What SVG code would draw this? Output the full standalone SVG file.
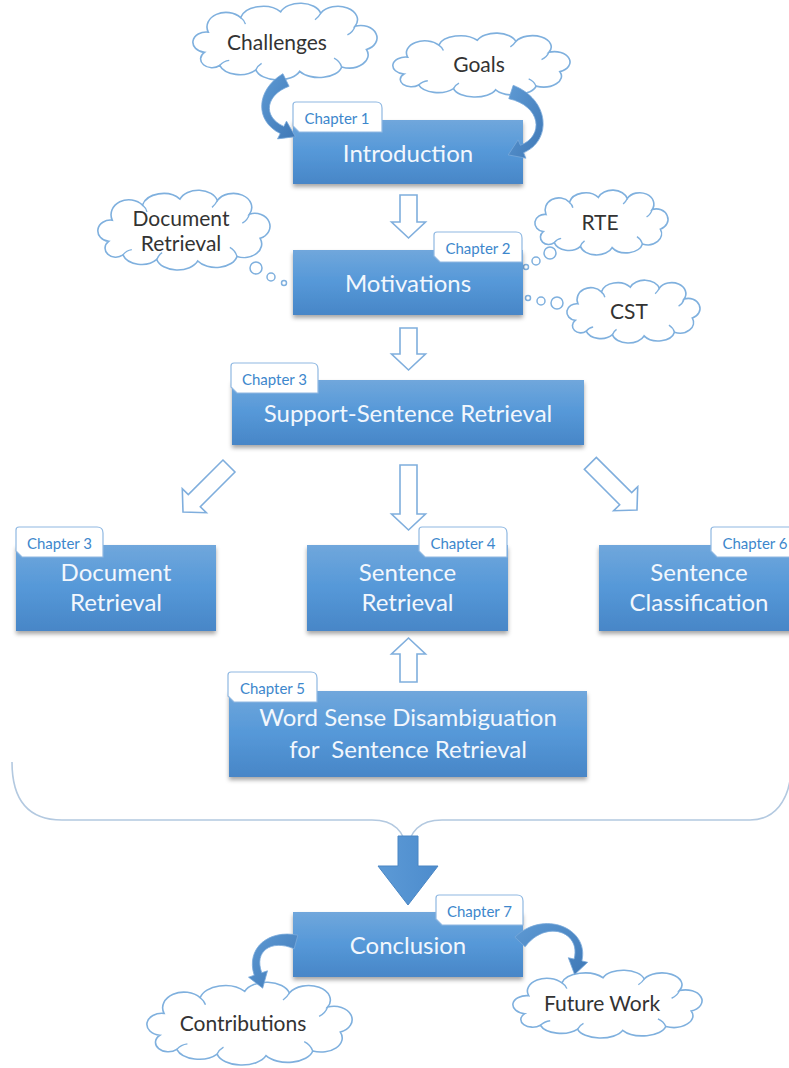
<svg xmlns="http://www.w3.org/2000/svg" xmlns:xlink="http://www.w3.org/1999/xlink" width="789" height="1068" viewBox="0 0 789 1068">
  <style>
    .box { fill: url(#boxGrad); filter: url(#shadow); }
    .tab { fill: #ffffff; stroke: #8fb8e2; stroke-width: 1.2; }
    .tabtxt { font-family: Lato, "Open Sans", sans-serif; font-size: 15px; fill: #3d87cc; text-anchor: middle; }
    .boxtxt { font-family: Lato, "Open Sans", sans-serif; font-size: 24px; fill: #f2f7fd; text-anchor: middle; }
    .cloud { fill: #ffffff; stroke: #7fb0de; stroke-width: 1.6; }
    .crease { fill: none; stroke: #7fb0de; stroke-width: 1.4; }
    .cloudtxt { font-family: Lato, "Open Sans", sans-serif; font-size: 21px; fill: #333333; text-anchor: middle; }
    .bubble { fill: #ffffff; stroke: #7fb0de; stroke-width: 1.5; }
    .hollow { fill: #ffffff; stroke: #7faedd; stroke-width: 1.6; stroke-linejoin: miter; }
    .curve { fill: url(#curveGrad); stroke: #7aa9da; stroke-width: 0.8; stroke-linejoin: round; }
    .brace { fill: none; stroke: #b3c9e0; stroke-width: 1.6; }
  </style>
  <defs>
    <linearGradient id="boxGrad" x1="0" y1="0" x2="0" y2="1">
      <stop offset="0" stop-color="#70a7dc"/>
      <stop offset="0.5" stop-color="#5598d8"/>
      <stop offset="1" stop-color="#4886c7"/>
    </linearGradient>
    <linearGradient id="curveGrad" x1="0" y1="0" x2="1" y2="1">
      <stop offset="0" stop-color="#5e9ad4"/>
      <stop offset="1" stop-color="#3f78b6"/>
    </linearGradient>
    <linearGradient id="bigGrad" x1="0" y1="0" x2="1" y2="0">
      <stop offset="0" stop-color="#5c9ad6"/>
      <stop offset="1" stop-color="#4d8ccd"/>
    </linearGradient>
    <filter id="shadow" x="-5%" y="-10%" width="110%" height="130%">
      <feDropShadow dx="0" dy="3" stdDeviation="2" flood-color="#000000" flood-opacity="0.35"/>
    </filter>
    <!-- cloud outline in a 200x100 design box -->
    <path id="cloudShape" vector-effect="non-scaling-stroke" d="M 16 66 A 14 14 0 0 1 20 38 A 20 20 0 0 1 54 18 A 24 20 0 0 1 96 10 A 22 18 0 0 1 138 12 A 20 18 0 0 1 174 30 A 16 16 0 0 1 186 62 A 20 18 0 0 1 160 86 A 24 18 0 0 1 116 92 A 24 18 0 0 1 70 90 A 22 18 0 0 1 32 84 A 12 12 0 0 1 16 66 Z"/>
    <path id="cloudCreases" vector-effect="non-scaling-stroke" d="M 54 18 Q 58 22 59 27 M 138 12 Q 136 17 132 21 M 174 30 Q 172 38 166 42 M 160 86 Q 158 78 152 74 M 70 90 Q 72 84 76 81 M 32 84 Q 36 78 42 77"/>
  </defs>

  <!-- thought clouds -->
  <g id="cloud-challenges">
    <g transform="translate(189.2,4.5) scale(0.953,0.726)">
      <use xlink:href="#cloudShape" class="cloud"/>
      <use xlink:href="#cloudCreases" class="crease"/>
    </g>
    <text class="cloudtxt" x="277" y="50">Challenges</text>
  </g>
  <g id="cloud-goals">
    <g transform="translate(389.3,34.2) scale(0.917,0.604)">
      <use xlink:href="#cloudShape" class="cloud"/>
      <use xlink:href="#cloudCreases" class="crease"/>
    </g>
    <text class="cloudtxt" x="479" y="72">Goals</text>
  </g>
  <g id="cloud-docret">
    <g transform="translate(94.4,191.5) scale(0.891,0.755)">
      <use xlink:href="#cloudShape" class="cloud"/>
      <use xlink:href="#cloudCreases" class="crease"/>
    </g>
    <text class="cloudtxt" x="181" y="226">Document</text>
    <text class="cloudtxt" x="181" y="251">Retrieval</text>
    <circle class="bubble" cx="256" cy="268" r="6"/>
    <circle class="bubble" cx="271" cy="277" r="4"/>
    <circle class="bubble" cx="284" cy="283" r="2.5"/>
  </g>
  <g id="cloud-rte">
    <g transform="translate(532.2,191.2) scale(0.689,0.613)">
      <use xlink:href="#cloudShape" class="cloud"/>
      <use xlink:href="#cloudCreases" class="crease"/>
    </g>
    <text class="cloudtxt" x="600" y="230">RTE</text>
    <circle class="bubble" cx="550" cy="253" r="6"/>
    <circle class="bubble" cx="536" cy="261" r="4"/>
    <circle class="bubble" cx="526" cy="267" r="2.5"/>
  </g>
  <g id="cloud-cst">
    <g transform="translate(564.2,281.2) scale(0.689,0.594)">
      <use xlink:href="#cloudShape" class="cloud"/>
      <use xlink:href="#cloudCreases" class="crease"/>
    </g>
    <text class="cloudtxt" x="629" y="319">CST</text>
    <circle class="bubble" cx="557" cy="303" r="6"/>
    <circle class="bubble" cx="541" cy="301" r="4"/>
    <circle class="bubble" cx="528" cy="298" r="2.5"/>
  </g>
  <g id="cloud-contributions">
    <g transform="translate(142.8,983.6) scale(1.062,0.783)">
      <use xlink:href="#cloudShape" class="cloud"/>
      <use xlink:href="#cloudCreases" class="crease"/>
    </g>
    <text class="cloudtxt" x="243" y="1031">Contributions</text>
  </g>
  <g id="cloud-futurework">
    <g transform="translate(509.1,971.3) scale(0.979,0.642)">
      <use xlink:href="#cloudShape" class="cloud"/>
      <use xlink:href="#cloudCreases" class="crease"/>
    </g>
    <text class="cloudtxt" x="602" y="1011">Future Work</text>
  </g>

  <!-- chapter boxes -->
  <g id="node-introduction">
    <rect class="box" x="293" y="120" width="230" height="64"/>
    <path class="tab" d="M 296 102 H 376 Q 382 102 382 108 V 132 H 299 L 293 126 V 105 Q 293 102 296 102 Z"/>
    <text class="tabtxt" x="337" y="123.5">Chapter 1</text>
    <text class="boxtxt" x="408" y="162">Introduction</text>
  </g>
  <g id="node-motivations">
    <rect class="box" x="293" y="250" width="230" height="65"/>
    <path class="tab" d="M 437 232 H 516 Q 522 232 522 238 V 262 H 440 L 434 256 V 235 Q 434 232 437 232 Z"/>
    <text class="tabtxt" x="478" y="253.5">Chapter 2</text>
    <text class="boxtxt" x="408" y="292">Motivations</text>
  </g>
  <g id="node-support">
    <rect class="box" x="232" y="380" width="352" height="65"/>
    <path class="tab" d="M 234 363 H 312 Q 318 363 318 369 V 393 H 237 L 231 387 V 366 Q 231 363 234 363 Z"/>
    <text class="tabtxt" x="274.5" y="384.5">Chapter 3</text>
    <text class="boxtxt" x="408" y="422">Support-Sentence Retrieval</text>
  </g>
  <g id="node-docret">
    <rect class="box" x="16" y="545" width="200" height="86"/>
    <path class="tab" d="M 19 527 H 97 Q 103 527 103 533 V 557 H 22 L 16 551 V 530 Q 16 527 19 527 Z"/>
    <text class="tabtxt" x="59.5" y="548.5">Chapter 3</text>
    <text class="boxtxt" x="116" y="581">Document</text>
    <text class="boxtxt" x="116" y="611">Retrieval</text>
  </g>
  <g id="node-sentret">
    <rect class="box" x="307" y="545" width="201" height="86"/>
    <path class="tab" d="M 422 527 H 501 Q 507 527 507 533 V 557 H 425 L 419 551 V 530 Q 419 527 422 527 Z"/>
    <text class="tabtxt" x="463" y="548.5">Chapter 4</text>
    <text class="boxtxt" x="407.5" y="581">Sentence</text>
    <text class="boxtxt" x="407.5" y="611">Retrieval</text>
  </g>
  <g id="node-sentclass">
    <rect class="box" x="599" y="545" width="200" height="86"/>
    <path class="tab" d="M 714 527 H 793 Q 799 527 799 533 V 557 H 717 L 711 551 V 530 Q 711 527 714 527 Z"/>
    <text class="tabtxt" x="755" y="548.5">Chapter 6</text>
    <text class="boxtxt" x="699" y="581">Sentence</text>
    <text class="boxtxt" x="699" y="611">Classification</text>
  </g>
  <g id="node-wsd">
    <rect class="box" x="229" y="691" width="358" height="86"/>
    <path class="tab" d="M 231 672 H 311 Q 317 672 317 678 V 702 H 234 L 228 696 V 675 Q 228 672 231 672 Z"/>
    <text class="tabtxt" x="272.5" y="693.5">Chapter 5</text>
    <text class="boxtxt" x="408" y="726">Word Sense Disambiguation</text>
    <text class="boxtxt" x="408" y="758" xml:space="preserve">for  Sentence Retrieval</text>
  </g>
  <g id="node-conclusion">
    <rect class="box" x="293" y="912" width="230" height="65"/>
    <path class="tab" d="M 439 895 H 517 Q 523 895 523 901 V 925 H 442 L 436 919 V 898 Q 436 895 439 895 Z"/>
    <text class="tabtxt" x="479.5" y="916.5">Chapter 7</text>
    <text class="boxtxt" x="408" y="954">Conclusion</text>
  </g>

  <!-- connectors -->
  <g id="connectors">
    <!-- hollow block arrows -->
    <path class="hollow" transform="translate(408.5,238)" d="M -8.5 -43 H 8.5 V -16 H 17 L 0 0 L -17 -16 H -8.5 Z"/>
    <path class="hollow" transform="translate(408.5,370)" d="M -8.5 -42 H 8.5 V -16 H 17 L 0 0 L -17 -16 H -8.5 Z"/>
    <path class="hollow" transform="translate(408.5,530)" d="M -8.5 -65 H 8.5 V -16 H 17 L 0 0 L -17 -16 H -8.5 Z"/>
    <path class="hollow" transform="translate(408.5,638) rotate(180)" d="M -8.5 -44 H 8.5 V -16 H 17 L 0 0 L -17 -16 H -8.5 Z"/>
    <path class="hollow" transform="translate(183,512) rotate(45)" d="M -8.5 -65 H 8.5 V -16 H 17 L 0 0 L -17 -16 H -8.5 Z"/>
    <path class="hollow" transform="translate(637,510) rotate(-45)" d="M -8.5 -66 H 8.5 V -16 H 17 L 0 0 L -17 -16 H -8.5 Z"/>

    <!-- brace gathering chapters 3 to 6 -->
    <path class="brace" d="M 12 762 C 12 800 28 820 62 820 L 372 820 C 395 820 404 832 407 850 C 410 832 419 820 442 820 L 750 820 C 775 820 789 800 791 772"/>

    <!-- solid arrow into the conclusion -->
    <path d="M 398 836 H 418 V 866 H 438 L 408 905 L 378 866 H 398 Z" fill="url(#bigGrad)" stroke="#4a86c4" stroke-width="1"/>

    <!-- tapered curved arrows -->
    <path class="curve" d="M 282.9 73.7 C 256.8 89.1 253.5 120.2 280.2 133.6 L 277.5 138.9 L 295.4 136.7 L 286.5 121.1 L 283.8 126.4 C 261.6 116.3 266.3 94.5 289.1 86.3 Z"/>
    <path class="curve" d="M 513.2 85.3 C 550 99.6 552.2 140.7 523.6 152.7 L 525.9 158.2 L 508.2 154.9 L 518.1 139.8 L 520.4 145.3 C 544.6 135.8 540.9 105.8 508.8 98.7 Z"/>
    <path class="curve" d="M 297.8 935.2 C 268.8 929.1 245.4 948.1 254.2 975.3 L 248.5 977.2 L 262.7 988.2 L 267.5 970.8 L 261.8 972.7 C 253.7 951.5 270.8 938.9 294.2 948.8 Z"/>
    <path class="curve" d="M 514.9 937.2 C 543.1 909.3 589.5 927.8 581.9 960.9 L 587.7 962.3 L 574.6 974.6 L 568.3 957.7 L 574.1 959.1 C 581.4 931.8 546.3 918.8 525.1 946.8 Z"/>
  </g>
</svg>
